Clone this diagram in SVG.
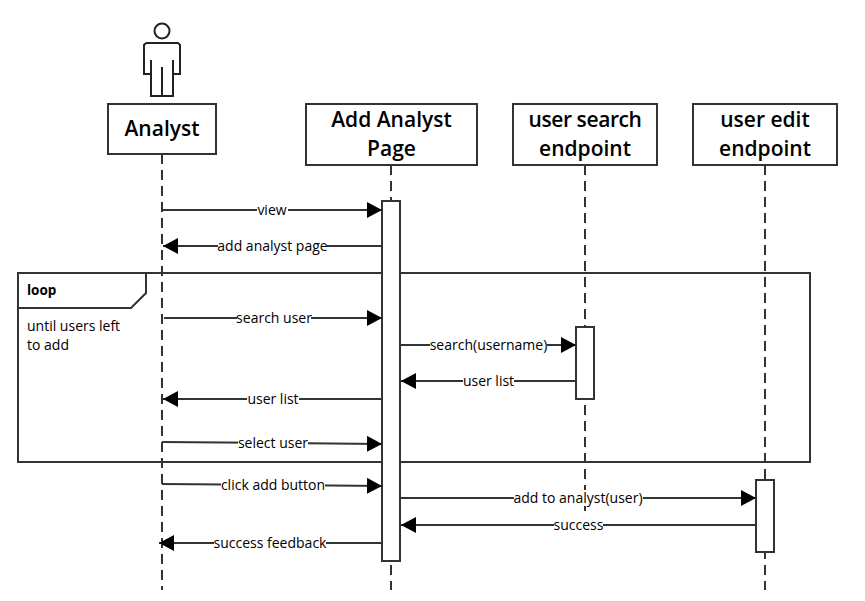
<svg xmlns="http://www.w3.org/2000/svg" width="865" height="601" viewBox="0 0 865 601">
<style>
text{font-family:"Open Sans","Noto Sans","Liberation Sans",sans-serif;fill:#000}
.b{fill:#fff;stroke:#333;stroke-width:2}
.t{font-size:21px;font-weight:600;text-anchor:middle}
.l{font-size:14px;text-anchor:middle}
.ll{fill:none;stroke:#333;stroke-width:2;stroke-dasharray:10 6}
.m2{fill:none;stroke:#333;stroke-width:2;marker-end:url(#a)}
.bg{fill:#fff;stroke:none}
.act{fill:none;stroke:#222;stroke-width:2}
</style>
<defs><marker id="a" markerUnits="userSpaceOnUse" markerWidth="16" markerHeight="16" refX="15" refY="8" orient="auto"><path d="M0 0L15 8L0 16Z" fill="#000"/></marker></defs>
<rect width="865" height="601" fill="#fff"/>
<g id="lifelines">
<path class="ll" d="M162 154V590"/>
<path class="ll" d="M391 165V590"/>
<path class="ll" d="M585 165V512"/>
<path class="ll" d="M765 165V590"/>
</g>
<g id="actor-analyst">
<circle class="act" cx="162" cy="31" r="7.500"/>
<path class="act" d="M146 43H178L180 45V74H173V60M173 74V96H151V74M151 60V74H144V45L146 43M162 67V96"/>
<rect class="b" x="108" y="104" width="108" height="50"/>
<text class="t" x="162" y="136">Analyst</text>
</g>
<g id="node-page">
<rect class="b" x="306" y="104" width="171" height="61"/>
<text class="t" x="391.500" y="127">Add Analyst</text>
<text class="t" x="391.500" y="156">Page</text>
</g>
<g id="node-search">
<rect class="b" x="513" y="104" width="144" height="61"/>
<text class="t" x="585" y="127" letter-spacing="-0.4">user search</text>
<text class="t" x="585" y="156">endpoint</text>
</g>
<g id="node-edit">
<rect class="b" x="693" y="104" width="144" height="61"/>
<text class="t" x="765" y="127">user edit</text>
<text class="t" x="765" y="156">endpoint</text>
</g>
<g id="frame-loop">
<rect x="18" y="273" width="792" height="189" fill="none" stroke="#333" stroke-width="2"/>
<path d="M18 273H146V293L131 308H18Z" fill="#fff" stroke="#333" stroke-width="2"/>
<text x="27" y="295" font-size="13.500" font-weight="700">loop</text>
<text x="27" y="331" font-size="14">until users left</text>
<text x="27" y="350" font-size="14">to add</text>
</g>
<g id="activations">
<rect class="b" x="382" y="201" width="18" height="360"/>
<rect class="b" x="576" y="327" width="18" height="72"/>
<rect class="b" x="756" y="480" width="18" height="72"/>
</g>
<g id="connectors">
<path class="m2" d="M162 210H382"/>
<path class="m2" d="M382 246H163"/>
<path class="m2" d="M164 318H382"/>
<path class="m2" d="M400 345H576"/>
<path class="m2" d="M576 381H401"/>
<path class="m2" d="M382 399H163"/>
<path class="m2" d="M162 442L382 444"/>
<path class="m2" d="M162 484L382 486"/>
<path class="m2" d="M400 498H756"/>
<path class="m2" d="M756 525H401"/>
<path class="m2" d="M382 543H159"/>
</g>
<g id="labels">
<rect class="bg" x="257" y="202" width="31" height="16"/><text class="l" x="272" y="215">view</text>
<rect class="bg" x="218" y="238" width="109" height="16"/><text class="l" x="272.500" y="251">add analyst page</text>
<rect class="bg" x="237" y="310" width="74" height="16"/><text class="l" x="274" y="323">search user</text>
<rect class="bg" x="430" y="337" width="117" height="16"/><text class="l" x="488.500" y="350">search(username)</text>
<rect class="bg" x="463" y="373" width="51" height="16"/><text class="l" x="488.500" y="386">user list</text>
<rect class="bg" x="247" y="391" width="52" height="16"/><text class="l" x="273" y="404">user list</text>
<rect class="bg" x="238" y="435" width="70" height="16"/><text class="l" x="273" y="448">select user</text>
<rect class="bg" x="221" y="477" width="104" height="16"/><text class="l" x="273" y="490">click add button</text>
<rect class="bg" x="514" y="490" width="129" height="16"/><text class="l" x="578" y="503">add to analyst(user)</text>
<rect class="bg" x="554" y="517" width="49" height="16"/><text class="l" x="578.500" y="530">success</text>
<rect class="bg" x="214" y="535" width="112" height="16"/><text class="l" x="270" y="548">success feedback</text>
</g>
</svg>
